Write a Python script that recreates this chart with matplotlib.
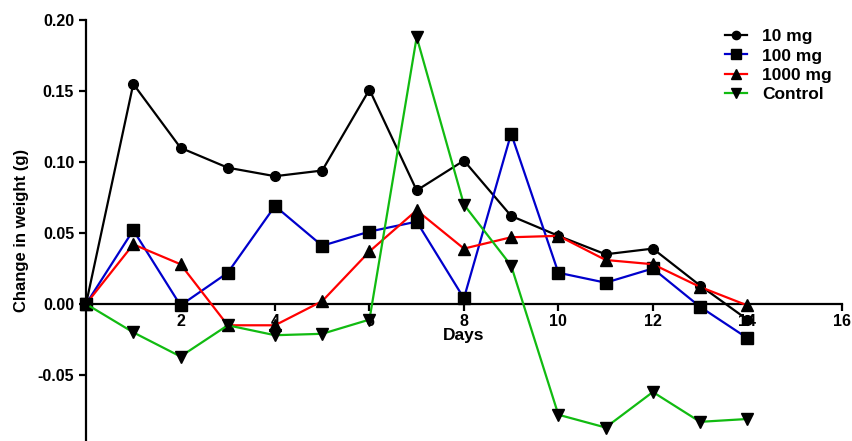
import matplotlib.pyplot as plt
import numpy as np

plt.rcParams['font.family'] = ['Liberation Sans', 'DejaVu Sans']

days = np.arange(0, 15)
dose_10mg = [0.0, 0.155, 0.110, 0.096, 0.090, 0.094, 0.151, 0.080, 0.101, 0.062, 0.048, 0.035, 0.039, 0.013, -0.011]
dose_100mg = [0.0, 0.052, -0.001, 0.022, 0.069, 0.041, 0.051, 0.058, 0.004, 0.120, 0.022, 0.015, 0.025, -0.002, -0.024]
dose_1000mg = [0.0, 0.042, 0.028, -0.015, -0.015, 0.002, 0.037, 0.066, 0.039, 0.047, 0.048, 0.031, 0.028, 0.012, -0.001]
control = [0.0, -0.020, -0.037, -0.015, -0.022, -0.021, -0.011, 0.188, 0.070, 0.027, -0.078, -0.087, -0.062, -0.083, -0.081]

series = [
    ('10 mg', dose_10mg, '#000000', 'o', 7),
    ('100 mg', dose_100mg, '#0000cc', 's', 8),
    ('1000 mg', dose_1000mg, '#ff0000', '^', 8.5),
    ('Control', control, '#11bb11', 'v', 8.5),
]

fig = plt.figure(figsize=(8.52, 4.41), dpi=100)
ax = fig.add_axes([0.101, 0.0, 0.887, 0.9546])

for name, vals, col, mk, ms in series:
    ax.plot(days, vals, color=col, lw=1.6, marker=mk, ms=ms,
            mfc='black', mec='black', label=name, clip_on=False, zorder=3)

ax.set_xlim(0, 16)
ax.set_ylim(-0.0965, 0.2)
ax.set_xticks([2, 4, 6, 8, 10, 12, 14, 16])
ax.set_yticks([-0.05, 0.0, 0.05, 0.10, 0.15, 0.20])
ax.set_yticklabels(['-0.05', '0.00', '0.05', '0.10', '0.15', '0.20'])

ax.spines['bottom'].set_position(('data', 0))
ax.spines['top'].set_visible(False)
ax.spines['right'].set_visible(False)
for s in ('left', 'bottom'):
    ax.spines[s].set_linewidth(1.6)
ax.tick_params(axis='both', width=1.6, length=5, labelsize=11.5)
ax.tick_params(axis='x', pad=2)
for lab in ax.get_xticklabels() + ax.get_yticklabels():
    lab.set_fontweight('bold')

ax.set_ylabel('Change in weight (g)', fontsize=12, fontweight='bold')
ax.yaxis.set_label_coords(-0.075, 0.5)
ax.text(8, -0.022, 'Days', ha='center', va='center', fontsize=12.5, fontweight='bold')

leg = ax.legend(loc='upper left', bbox_to_anchor=(0.845, 0.979), frameon=False,
                prop={'weight': 'bold', 'size': 12.5}, handlelength=1.3,
                handletextpad=0.85, labelspacing=0.25, borderaxespad=0,
                borderpad=0, markerscale=0.85)

fig.savefig('out.png', dpi=100)
